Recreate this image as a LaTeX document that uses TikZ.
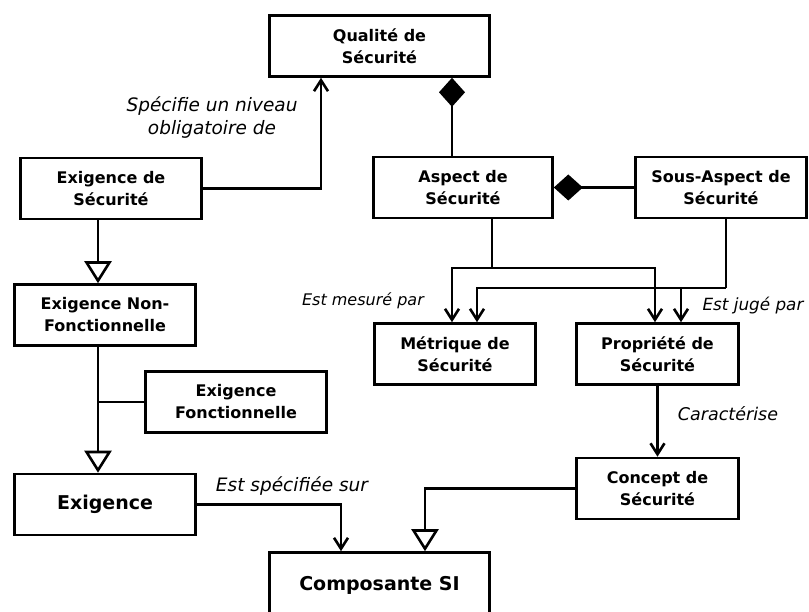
\documentclass[tikz,border=0pt]{standalone}
\usepackage{fontspec}
\setmainfont{DejaVu Sans}
\usetikzlibrary{arrows.meta,positioning}

\tikzset{
  classe/.style={draw, line width=2.6pt, align=center, minimum width=181pt, minimum height=61pt,
    inner sep=2pt, font=\fontsize{16}{22}\selectfont\bfseries},
  grand/.style={font=\fontsize{19}{22}\selectfont\bfseries},
  lien/.style={line width=2.6pt},
  assoc/.style={lien, -{Straight Barb[length=11pt,width=14pt]}},
  herit/.style={lien, -{Triangle[length=22pt,width=27pt,fill=white]}},
  compo/.style={lien, -{Diamond[length=29pt,width=26pt]}},
  role/.style={align=center, font=\fontsize{16}{23}\selectfont\itshape}
}

\begin{document}
\begin{tikzpicture}[x=1pt,y=-1pt]
  \useasboundingbox (0,0) rectangle (809,612);

  \node[classe, minimum width=220pt] (qualite) at (379.5,46) {Qualit\'e de\\S\'ecurit\'e};
  \node[classe] (exsec) at (111,188.5) {Exigence de\\S\'ecurit\'e};
  \node[classe, minimum width=179pt] (aspect) at (463,187.5) {Aspect de\\S\'ecurit\'e};
  \node[classe, minimum width=171pt] (sousaspect) at (721,187.5) {Sous-Aspect de\\S\'ecurit\'e};
  \node[classe] (enf) at (105,315) {Exigence Non-\\Fonctionnelle};
  \node[classe] (ef) at (236,402) {Exigence\\Fonctionnelle};
  \node[classe, grand] (exig) at (105,504.5) {Exigence};
  \node[classe, minimum width=161pt] (metrique) at (455,354) {M\'etrique de\\S\'ecurit\'e};
  \node[classe, minimum width=162pt] (propriete) at (657.5,354) {Propri\'et\'e de\\S\'ecurit\'e};
  \node[classe, minimum width=162pt] (concept) at (657.5,488.5) {Concept de\\S\'ecurit\'e};
  \node[classe, grand, minimum width=220pt, minimum height=65pt] (composante) at (379.5,585) {Composante SI};

  \coordinate (a0) at (492,268);
  \coordinate (a1) at (452,268);
  \coordinate (a2) at (655,268);
  \coordinate (s0) at (726,288);
  \coordinate (s1) at (477,288);
  \coordinate (s2) at (681,288);
  \coordinate (j1) at ([xshift=-7pt]enf.south);

  \draw[assoc] (exsec.east) -| ([xshift=-58.5pt]qualite.south);
  \draw[compo] ([xshift=-11pt]aspect.north) -- ([xshift=-11pt]aspect.north |- qualite.south);
  \draw[compo] (sousaspect.west) -- (aspect.east);
  \draw[herit] ([xshift=-13pt]exsec.south) -- ([xshift=-13pt]exsec.south |- enf.north);
  \draw[herit] (j1) -- ([xshift=-7pt]exig.north);
  \draw[lien] (ef.west) -- (ef.west -| j1);

  \draw[lien] ([xshift=29pt]aspect.south) -- (a0);
  \draw[assoc] (a0) -- (a1) -- (a1 |- metrique.north);
  \draw[assoc] (a0) -- (a2) -- (a2 |- propriete.north);
  \draw[lien] ([xshift=5pt]sousaspect.south) -- (s0);
  \draw[assoc] (s0) -- (s1) -- (s1 |- metrique.north);
  \draw[assoc] (s2) -- (s2 |- propriete.north);

  \draw[assoc] (propriete) -- (concept);
  \draw[herit] (concept.west) -| ([xshift=45.5pt]composante.north);
  \draw[assoc] (exig.east) -| ([xshift=-38.5pt]composante.north);

  \node[role, font=\fontsize{18.5}{23}\selectfont\itshape] (l1) at (212,118) {Sp\'ecifie un niveau\\obligatoire de};
  \node[role] (l2) at (363,301) {Est mesur\'e par};
  \node[role, font=\fontsize{16.8}{23}\selectfont\itshape] (l3) at (753,306) {Est jug\'e par};
  \node[role, font=\fontsize{17.5}{23}\selectfont\itshape] (l4) at (728,414) {Caract\'erise};
  \node[role, font=\fontsize{18.5}{23}\selectfont\itshape] (l5) at (292,486) {Est sp\'ecifi\'ee sur};
\end{tikzpicture}
\end{document}
